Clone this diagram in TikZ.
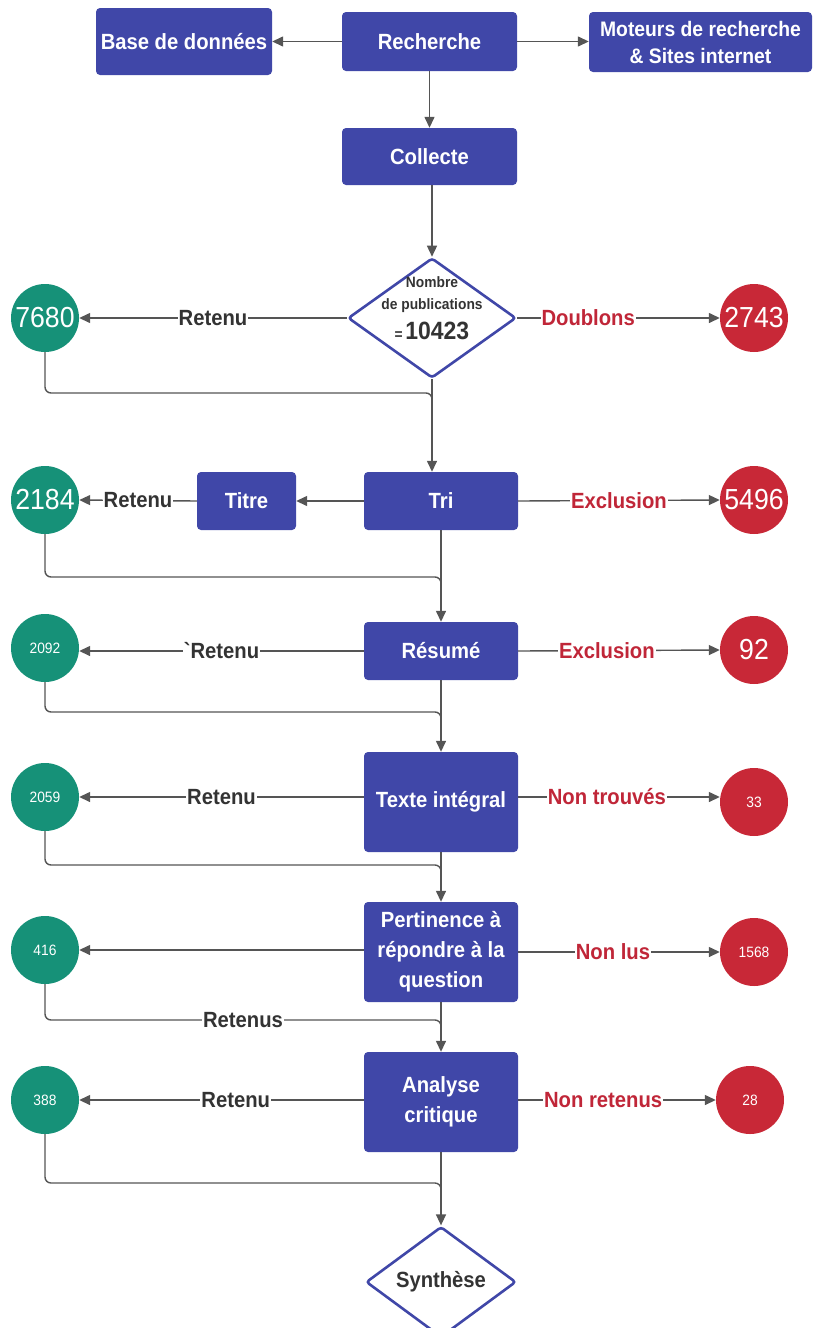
\documentclass[tikz,border=0pt]{standalone}
\usepackage{fontspec}
\setmainfont{Liberation Sans}[FakeStretch=0.92]
\newfontfamily\gravefont{Liberation Sans}[FakeStretch=0.92,Ligatures=TeXOff]
\usetikzlibrary{arrows.meta,shapes.geometric,calc}
\definecolor{boxblue}{RGB}{64,71,168}
\definecolor{okgreen}{RGB}{22,145,120}
\definecolor{nored}{RGB}{200,40,55}
\definecolor{redtxt}{RGB}{192,38,56}
\definecolor{ink}{RGB}{51,51,51}
\definecolor{wire}{RGB}{85,85,85}
\newcommand{\zw}[1]{\makebox[0pt][c]{#1}}
\begin{document}
\begin{tikzpicture}[x=1pt,y=-1pt,
  box/.style={rectangle, rounded corners=4pt, fill=boxblue, text=white,
    font=\fontsize{22}{30}\selectfont\bfseries, align=center, inner sep=0pt,
    minimum width=154pt, minimum height=58pt},
  gnum/.style={ellipse, fill=okgreen, text=white, inner sep=0pt,
    minimum width=68pt, minimum height=68pt},
  rnum/.style={ellipse, fill=nored, text=white, inner sep=0pt,
    minimum width=68pt, minimum height=68pt},
  bignum/.style={font=\fontsize{29}{32}\selectfont},
  smallnum/.style={font=\fontsize{15}{17}\selectfont},
  decision/.style={diamond, draw=boxblue, line width=2.6pt, fill=white,
    rounded corners=3pt, inner sep=0pt},
  conn/.style={draw=wire, line width=1.4pt, -{Triangle[length=11pt,width=10pt]}},
  wireline/.style={draw=wire, line width=1.4pt, rounded corners=6pt},
  lab/.style={fill=white, text=ink, inner sep=1pt,
    font=\fontsize{22}{24}\selectfont\bfseries},
  rlab/.style={fill=white, text=redtxt, inner sep=1pt,
    font=\fontsize{22}{24}\selectfont\bfseries}
]
\useasboundingbox (0,0) rectangle (812,1328);

% top row
\node[box, minimum width=176pt, minimum height=67pt] (base) at (184,41.5) {Base de données};
\node[box, minimum width=175pt, minimum height=59pt] (rech) at (429.5,41.5) {Recherche};
\node[box, minimum width=223pt, minimum height=60pt, font=\fontsize{21}{27}\selectfont\bfseries] (mot) at (700.5,42) {Moteurs de recherche\\\& Sites internet};
\node[box, minimum width=175pt, minimum height=57pt] (coll) at (429.5,156.5) {Collecte};

\draw[conn] (rech.west) -- (base.east);
\draw[conn] (rech.east) -- (rech.east -| mot.west);
\draw[conn] (rech.south) -- (coll.north);

% decision 1
\node[decision, minimum width=168pt, minimum height=120pt] (d1) at (432,318) {};
\node[text=ink, align=center, inner sep=0pt, font=\fontsize{15}{22}\selectfont\bfseries] (d1t) at (432,308)
  {Nombre\\de publications\\[8pt]{\fontsize{15}{18}\selectfont=\,}{\fontsize{25}{28}\selectfont 10423}};
\draw[conn] (coll.south -| d1.north) -- (d1.north);

\node[gnum, bignum] (n7680) at (45,318) {\zw{7680}};
\node[rnum, bignum] (n2743) at (754,318) {\zw{2743}};
\draw[conn] (d1.west) -- node[lab, pos=0.5] {Retenu} (n7680.east);
\draw[conn] (d1.east) -- node[rlab, pos=0.35] {Doublons} (n2743.west);

% row Tri
\node[box] (tri) at (441,501) {Tri};
\node[box, minimum width=99pt] (titre) at (246.5,501) {Titre};
\node[gnum, bignum] (n2184) at (45,500) {\zw{2184}};
\node[rnum, bignum] (n5496) at (754,500) {\zw{5496}};
\draw[conn] (d1.south) -- (d1.south |- tri.north);
\coordinate (j1) at (432,393);
\draw[wireline] (n7680.south) |- (j1) -- (432,410);
\draw[conn] (tri.west) -- (titre.east);
\draw[conn] (titre.west) -- node[lab, pos=0.5] {Retenu} (n2184.east);
\draw[conn] (tri.east) -- node[rlab, pos=0.5] {Exclusion} (n5496.west);

% row Résumé
\node[box] (res) at (441,651) {Résumé};
\node[gnum, smallnum] (n2092) at (45,648) {2092};
\node[rnum, bignum] (n92) at (754,650) {\zw{92}};
\draw[conn] (tri.south) -- (res.north);
\coordinate (j2) at (441,577);
\draw[wireline] (n2184.south) |- (j2) -- (441,594);
\draw[conn] (res.west) -- node[lab, pos=0.5] {{\gravefont\bfseries`}Retenu} (res.west -| n2092.east);
\draw[conn] (res.east) -- node[rlab, pos=0.44] {Exclusion} (n92.west);

% row Texte intégral
\node[box, minimum height=100pt] (txt) at (441,802) {Texte intégral};
\node[gnum, smallnum] (n2059) at (45,797) {2059};
\node[rnum, smallnum] (n33) at (754,802) {33};
\draw[conn] (res.south) -- (txt.north);
\coordinate (j3) at (441,712);
\draw[wireline] (n2092.south) |- (j3) -- (441,728);
\draw[conn] (txt.west |- n2059) -- node[lab, pos=0.5] {Retenu} (n2059.east);
\draw[conn] (txt.east |- 0,797) -- node[rlab, pos=0.44] {Non trouvés} (n33.west |- 0,797);

% row Pertinence
\node[box, minimum height=100pt] (pert) at (441,952) {Pertinence à\\répondre à la\\question};
\node[gnum, smallnum] (n416) at (45,950) {416};
\node[rnum, smallnum] (n1568) at (754,952) {1568};
\draw[conn] (txt.south) -- (pert.north);
\coordinate (j4) at (441,865);
\draw[wireline] (n2059.south) |- (j4) -- (441,880);
\draw[conn] (pert.west |- n416) -- (n416.east);
\draw[conn] (pert.east |- n1568) -- node[rlab, pos=0.47] {Non lus} (n1568.west);

% row Analyse
\node[box, minimum height=100pt] (ana) at (441,1102) {Analyse\\critique};
\node[gnum, smallnum] (n388) at (45,1100) {388};
\node[rnum, smallnum] (n28) at (750,1100) {28};
\draw[conn] (pert.south) -- (ana.north);
\coordinate (j5) at (441,1020);
\draw[wireline] (n416.south) |- node[lab, pos=0.75] {Retenus} (j5) -- (441,1035);
\draw[conn] (ana.west |- n388) -- node[lab, pos=0.45] {Retenu} (n388.east);
\draw[conn] (ana.east |- n28) -- node[rlab, pos=0.43] {Non retenus} (n28.west);

% Synthèse
\node[decision, minimum width=150pt, minimum height=100pt, text=ink,
  font=\fontsize{22}{24}\selectfont\bfseries] (syn) at (441,1282) {Synthèse};
\draw[conn] (ana.south) -- (syn.north);
\coordinate (j6) at (441,1183);
\draw[wireline] (n388.south) |- (j6) -- (441,1198);
\end{tikzpicture}
\end{document}
